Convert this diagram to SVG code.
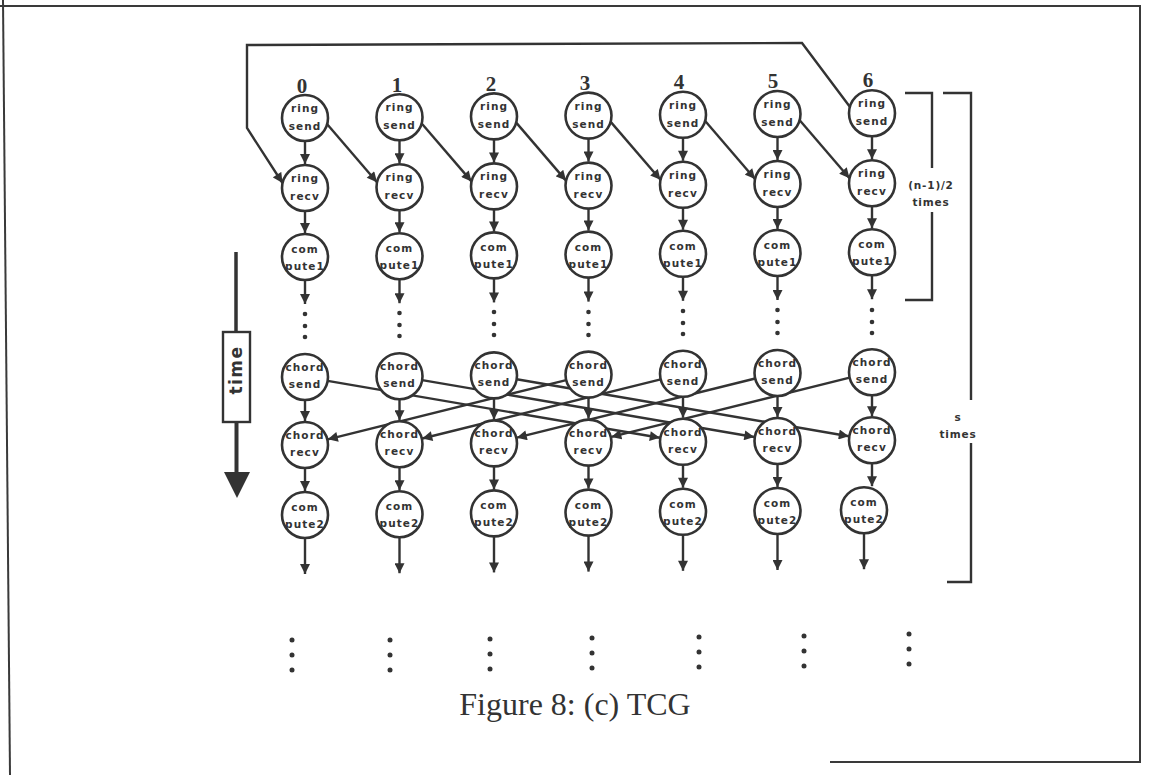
<svg xmlns="http://www.w3.org/2000/svg" width="1150" height="775" viewBox="0 0 1150 775">
<defs>
<style>
.frame{fill:none;stroke:#3a3a3a;stroke-width:2}
.e{fill:none;stroke:#333;stroke-width:2.4;marker-end:url(#ah)}
.l{fill:none;stroke:#333;stroke-width:2.4}
.n circle{fill:#fff;stroke:#333;stroke-width:2.6}
.n text{font-family:"DejaVu Sans",sans-serif;font-weight:bold;font-size:10.5px;letter-spacing:1.1px;fill:#333;text-anchor:middle}
.num{font-family:"Liberation Serif",serif;font-weight:bold;font-size:21px;fill:#333;text-anchor:middle}
.lab{font-family:"DejaVu Sans",sans-serif;font-weight:bold;font-size:10.5px;letter-spacing:0.8px;fill:#333;text-anchor:middle}
.dot{fill:#333}
.cap{font-family:"Liberation Serif",serif;font-size:32px;fill:#333;text-anchor:middle}
</style>
<marker id="ah" viewBox="0 0 10 10" refX="10" refY="5" markerWidth="11" markerHeight="10" markerUnits="userSpaceOnUse" orient="auto"><path d="M0,0 L10,5 L0,10 z" fill="#333"/></marker>
</defs>
<rect x="0" y="0" width="1150" height="775" fill="#fff"/>
<g id="frame">
<line class="frame" x1="0" y1="6" x2="1141" y2="6"/>
<line class="frame" x1="3" y1="0" x2="10" y2="775"/>
<line class="frame" x1="1140" y1="6" x2="1140" y2="762"/>
<line class="frame" x1="830" y1="762" x2="1141" y2="762"/>
</g>
<g id="connectors">
<path class="e" d="M305,141 V164"/><path class="e" d="M305,211 V233"/><path class="e" d="M305,280 V304"/>
<path class="e" d="M399.5,140.2 V163.2"/><path class="e" d="M399.5,210.2 V232.2"/><path class="e" d="M399.5,279.2 V303.2"/>
<path class="e" d="M494,139.4 V162.4"/><path class="e" d="M494,209.4 V231.4"/><path class="e" d="M494,278.4 V302.4"/>
<path class="e" d="M588.5,138.6 V161.6"/><path class="e" d="M588.5,208.6 V230.6"/><path class="e" d="M588.5,277.6 V301.6"/>
<path class="e" d="M683,137.8 V160.8"/><path class="e" d="M683,207.8 V229.8"/><path class="e" d="M683,276.8 V300.8"/>
<path class="e" d="M777.5,137 V160"/><path class="e" d="M777.5,207 V229"/><path class="e" d="M777.5,276 V300"/>
<path class="e" d="M872,136.2 V159.2"/><path class="e" d="M872,206.2 V228.2"/><path class="e" d="M872,275.2 V299.2"/>
<path class="e" d="M305,400 V421"/><path class="e" d="M305,468 V491"/><path class="e" d="M305,538 V574"/>
<path class="e" d="M399.5,399.2 V420.2"/><path class="e" d="M399.5,467.2 V490.2"/><path class="e" d="M399.5,537.2 V573.2"/>
<path class="e" d="M494,398.4 V419.4"/><path class="e" d="M494,466.4 V489.4"/><path class="e" d="M494,536.4 V572.4"/>
<path class="e" d="M588.5,397.6 V418.6"/><path class="e" d="M588.5,465.6 V488.6"/><path class="e" d="M588.5,535.6 V571.6"/>
<path class="e" d="M683,396.8 V417.8"/><path class="e" d="M683,464.8 V487.8"/><path class="e" d="M683,534.8 V570.8"/>
<path class="e" d="M777.5,396 V417"/><path class="e" d="M777.5,464 V487"/><path class="e" d="M777.5,534 V570"/>
<path class="e" d="M872,395.2 V416.2"/><path class="e" d="M872,463.2 V486.2"/><path class="e" d="M864,533.2 V569.2"/>
<path class="e" d="M327,124 L377,182.2"/>
<path class="e" d="M421.5,123.2 L471.5,181.4"/>
<path class="e" d="M516,122.4 L566,180.6"/>
<path class="e" d="M610.5,121.6 L660.5,179.8"/>
<path class="e" d="M705,120.8 L755,179"/>
<path class="e" d="M799.5,120 L849.5,178.2"/>
<path class="e" d="M850,107 L802,43 L247,45 L247,128 L282.5,183"/>
<path class="e" d="M327.7,380.9 L659.8,437.8"/>
<path class="e" d="M422.2,380.1 L754.3,437"/>
<path class="e" d="M516.7,379.3 L848.8,436.2"/>
<path class="e" d="M566.2,380.1 L327.8,439.3"/>
<path class="e" d="M660.7,379.3 L422.3,438.5"/>
<path class="e" d="M755.2,378.5 L516.8,437.7"/>
<path class="e" d="M849.7,377.7 L611.3,436.9"/>
</g>
<g id="nodes">
<g id="rs0" class="n" transform="translate(305,118)"><circle r="23"/><text y="-6">ring</text><text y="12">send</text></g>
<g id="rs1" class="n" transform="translate(399.5,117.2)"><circle r="23"/><text y="-6">ring</text><text y="12">send</text></g>
<g id="rs2" class="n" transform="translate(494,116.4)"><circle r="23"/><text y="-6">ring</text><text y="12">send</text></g>
<g id="rs3" class="n" transform="translate(588.5,115.6)"><circle r="23"/><text y="-6">ring</text><text y="12">send</text></g>
<g id="rs4" class="n" transform="translate(683,114.8)"><circle r="23"/><text y="-6">ring</text><text y="12">send</text></g>
<g id="rs5" class="n" transform="translate(777.5,114)"><circle r="23"/><text y="-6">ring</text><text y="12">send</text></g>
<g id="rs6" class="n" transform="translate(872,113.2)"><circle r="23"/><text y="-6">ring</text><text y="12">send</text></g>
<g id="rr0" class="n" transform="translate(305,188)"><circle r="23"/><text y="-6">ring</text><text y="12">recv</text></g>
<g id="rr1" class="n" transform="translate(399.5,187.2)"><circle r="23"/><text y="-6">ring</text><text y="12">recv</text></g>
<g id="rr2" class="n" transform="translate(494,186.4)"><circle r="23"/><text y="-6">ring</text><text y="12">recv</text></g>
<g id="rr3" class="n" transform="translate(588.5,185.6)"><circle r="23"/><text y="-6">ring</text><text y="12">recv</text></g>
<g id="rr4" class="n" transform="translate(683,184.8)"><circle r="23"/><text y="-6">ring</text><text y="12">recv</text></g>
<g id="rr5" class="n" transform="translate(777.5,184)"><circle r="23"/><text y="-6">ring</text><text y="12">recv</text></g>
<g id="rr6" class="n" transform="translate(872,183.2)"><circle r="23"/><text y="-6">ring</text><text y="12">recv</text></g>
<g id="c1_0" class="n" transform="translate(305,257)"><circle r="23"/><text y="-4">com</text><text y="13">pute1</text></g>
<g id="c1_1" class="n" transform="translate(399.5,256.2)"><circle r="23"/><text y="-4">com</text><text y="13">pute1</text></g>
<g id="c1_2" class="n" transform="translate(494,255.4)"><circle r="23"/><text y="-4">com</text><text y="13">pute1</text></g>
<g id="c1_3" class="n" transform="translate(588.5,254.6)"><circle r="23"/><text y="-4">com</text><text y="13">pute1</text></g>
<g id="c1_4" class="n" transform="translate(683,253.8)"><circle r="23"/><text y="-4">com</text><text y="13">pute1</text></g>
<g id="c1_5" class="n" transform="translate(777.5,253)"><circle r="23"/><text y="-4">com</text><text y="13">pute1</text></g>
<g id="c1_6" class="n" transform="translate(872,252.2)"><circle r="23"/><text y="-4">com</text><text y="13">pute1</text></g>
<g id="cs0" class="n" transform="translate(305,377)"><circle r="23"/><text y="-6">chord</text><text y="11">send</text></g>
<g id="cs1" class="n" transform="translate(399.5,376.2)"><circle r="23"/><text y="-6">chord</text><text y="11">send</text></g>
<g id="cs2" class="n" transform="translate(494,375.4)"><circle r="23"/><text y="-6">chord</text><text y="11">send</text></g>
<g id="cs3" class="n" transform="translate(588.5,374.6)"><circle r="23"/><text y="-6">chord</text><text y="11">send</text></g>
<g id="cs4" class="n" transform="translate(683,373.8)"><circle r="23"/><text y="-6">chord</text><text y="11">send</text></g>
<g id="cs5" class="n" transform="translate(777.5,373)"><circle r="23"/><text y="-6">chord</text><text y="11">send</text></g>
<g id="cs6" class="n" transform="translate(872,372.2)"><circle r="23"/><text y="-6">chord</text><text y="11">send</text></g>
<g id="cr0" class="n" transform="translate(305,445)"><circle r="23"/><text y="-6">chord</text><text y="11">recv</text></g>
<g id="cr1" class="n" transform="translate(399.5,444.2)"><circle r="23"/><text y="-6">chord</text><text y="11">recv</text></g>
<g id="cr2" class="n" transform="translate(494,443.4)"><circle r="23"/><text y="-6">chord</text><text y="11">recv</text></g>
<g id="cr3" class="n" transform="translate(588.5,442.6)"><circle r="23"/><text y="-6">chord</text><text y="11">recv</text></g>
<g id="cr4" class="n" transform="translate(683,441.8)"><circle r="23"/><text y="-6">chord</text><text y="11">recv</text></g>
<g id="cr5" class="n" transform="translate(777.5,441)"><circle r="23"/><text y="-6">chord</text><text y="11">recv</text></g>
<g id="cr6" class="n" transform="translate(872,440.2)"><circle r="23"/><text y="-6">chord</text><text y="11">recv</text></g>
<g id="c2_0" class="n" transform="translate(305,515)"><circle r="23"/><text y="-4">com</text><text y="13">pute2</text></g>
<g id="c2_1" class="n" transform="translate(399.5,514.2)"><circle r="23"/><text y="-4">com</text><text y="13">pute2</text></g>
<g id="c2_2" class="n" transform="translate(494,513.4)"><circle r="23"/><text y="-4">com</text><text y="13">pute2</text></g>
<g id="c2_3" class="n" transform="translate(588.5,512.6)"><circle r="23"/><text y="-4">com</text><text y="13">pute2</text></g>
<g id="c2_4" class="n" transform="translate(683,511.8)"><circle r="23"/><text y="-4">com</text><text y="13">pute2</text></g>
<g id="c2_5" class="n" transform="translate(777.5,511)"><circle r="23"/><text y="-4">com</text><text y="13">pute2</text></g>
<g id="c2_6" class="n" transform="translate(864,510.2)"><circle r="23"/><text y="-4">com</text><text y="13">pute2</text></g>
</g>
<g id="labels">
<text class="num" x="302" y="93">0</text>
<text class="num" x="397" y="92">1</text>
<text class="num" x="491" y="91">2</text>
<text class="num" x="585" y="90">3</text>
<text class="num" x="679" y="89">4</text>
<text class="num" x="773" y="88">5</text>
<text class="num" x="868" y="87">6</text>
</g>
<g id="dots">
<circle class="dot" cx="305" cy="314" r="2.3"/><circle class="dot" cx="305" cy="326" r="2.3"/><circle class="dot" cx="305" cy="337" r="2.3"/>
<circle class="dot" cx="399.5" cy="313" r="2.3"/><circle class="dot" cx="399.5" cy="325" r="2.3"/><circle class="dot" cx="399.5" cy="336" r="2.3"/>
<circle class="dot" cx="494" cy="312" r="2.3"/><circle class="dot" cx="494" cy="324" r="2.3"/><circle class="dot" cx="494" cy="335" r="2.3"/>
<circle class="dot" cx="588.5" cy="312" r="2.3"/><circle class="dot" cx="588.5" cy="324" r="2.3"/><circle class="dot" cx="588.5" cy="335" r="2.3"/>
<circle class="dot" cx="683" cy="311" r="2.3"/><circle class="dot" cx="683" cy="323" r="2.3"/><circle class="dot" cx="683" cy="334" r="2.3"/>
<circle class="dot" cx="777.5" cy="310" r="2.3"/><circle class="dot" cx="777.5" cy="322" r="2.3"/><circle class="dot" cx="777.5" cy="333" r="2.3"/>
<circle class="dot" cx="872" cy="310" r="2.3"/><circle class="dot" cx="872" cy="322" r="2.3"/><circle class="dot" cx="872" cy="333" r="2.3"/>
<circle class="dot" cx="292" cy="640" r="2.5"/><circle class="dot" cx="292" cy="655" r="2.5"/><circle class="dot" cx="292" cy="670" r="2.5"/>
<circle class="dot" cx="390" cy="640" r="2.5"/><circle class="dot" cx="390" cy="655" r="2.5"/><circle class="dot" cx="390" cy="670" r="2.5"/>
<circle class="dot" cx="490" cy="639" r="2.5"/><circle class="dot" cx="490" cy="654" r="2.5"/><circle class="dot" cx="490" cy="669" r="2.5"/>
<circle class="dot" cx="592" cy="638" r="2.5"/><circle class="dot" cx="592" cy="653" r="2.5"/><circle class="dot" cx="592" cy="668" r="2.5"/>
<circle class="dot" cx="699" cy="637" r="2.5"/><circle class="dot" cx="699" cy="652" r="2.5"/><circle class="dot" cx="699" cy="667" r="2.5"/>
<circle class="dot" cx="804" cy="636" r="2.5"/><circle class="dot" cx="804" cy="651" r="2.5"/><circle class="dot" cx="804" cy="666" r="2.5"/>
<circle class="dot" cx="909" cy="634" r="2.5"/><circle class="dot" cx="909" cy="649" r="2.5"/><circle class="dot" cx="909" cy="664" r="2.5"/>
</g>
<g id="time">
<line x1="236" y1="252" x2="236" y2="332" stroke="#333" stroke-width="3.5"/>
<rect x="223" y="332" width="27" height="90" fill="#fff" stroke="#333" stroke-width="2.4"/>
<line x1="236.5" y1="422" x2="236.5" y2="474" stroke="#333" stroke-width="4"/>
<path d="M224,472 L250,472 L237,498 z" fill="#333"/>
<text x="0" y="0" transform="translate(242,370) rotate(-90)" font-family="DejaVu Sans, sans-serif" font-weight="bold" font-size="17" letter-spacing="1.5" fill="#333" text-anchor="middle">time</text>
</g>
<g id="brackets">
<polyline class="l" points="905,93 932,93 932,168"/>
<polyline class="l" points="932,212 932,300 905,300"/>
<text class="lab" x="931" y="189">(n-1)/2</text>
<text class="lab" x="931" y="206">times</text>
<polyline class="l" points="943,93 971,93 971,400"/>
<polyline class="l" points="971,443 971,582 947,582"/>
<text class="lab" x="958" y="421">s</text>
<text class="lab" x="958" y="438">times</text>
</g>
<text class="cap" x="575" y="715">Figure 8: (c) TCG</text>
</svg>
